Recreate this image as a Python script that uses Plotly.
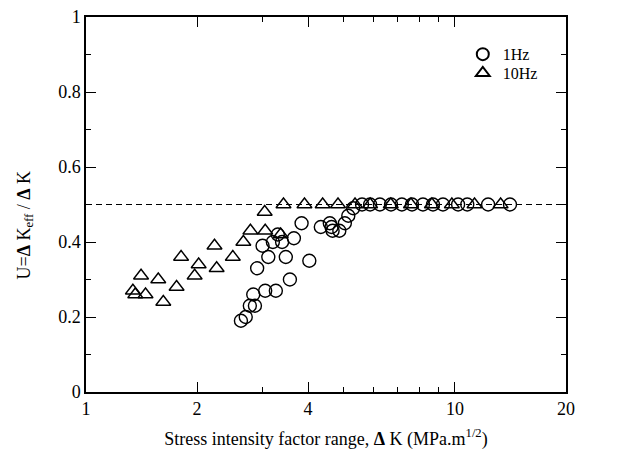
import plotly.graph_objects as go

# 1Hz data (circles)
dk_1hz = [2.63, 2.71, 2.78, 2.87, 2.84, 3.06, 3.27, 3.57, 2.91, 3.12, 3.48, 4.03,
          3.01, 3.21, 3.40, 3.31, 3.66, 3.84, 4.33, 4.58, 4.63, 4.66, 4.86, 5.03,
          5.14, 5.30, 5.60, 5.89, 6.26, 6.71, 7.18, 7.65, 8.19, 8.72, 9.28, 10.2,
          10.8, 12.3, 14.1]
u_1hz = [0.19, 0.20, 0.23, 0.23, 0.26, 0.27, 0.27, 0.30, 0.33, 0.36, 0.36, 0.35,
         0.39, 0.40, 0.40, 0.42, 0.41, 0.45, 0.44, 0.45, 0.44, 0.43, 0.43, 0.45,
         0.47, 0.49, 0.50, 0.50, 0.50, 0.50, 0.50, 0.50, 0.50, 0.50, 0.50, 0.50,
         0.50, 0.50, 0.50]

# 10Hz data (triangles)
dk_10hz = [1.34, 1.36, 1.45, 1.41, 1.57, 1.62, 1.76, 1.81, 1.97, 2.02, 2.23, 2.26,
           2.50, 2.67, 2.79, 3.06, 3.37, 3.05, 3.43, 3.91, 4.38, 4.82, 5.36, 5.89,
           6.70, 7.60, 8.66, 9.81, 11.3, 13.3]
u_10hz = [0.27, 0.26, 0.26, 0.31, 0.30, 0.24, 0.28, 0.36, 0.31, 0.34, 0.39, 0.33,
          0.36, 0.40, 0.43, 0.43, 0.42, 0.48, 0.50, 0.50, 0.50, 0.50, 0.50, 0.50,
          0.50, 0.50, 0.50, 0.50, 0.50, 0.50]

u_limit = 0.5
x_ticks = [1, 2, 4, 10, 20]
x_minor = [3, 5, 6, 7, 8, 9]

FONT = "Liberation Serif"

fig = go.Figure()
fig.add_trace(go.Scatter(x=dk_1hz, y=u_1hz, mode="markers", name="1Hz", legend="legend",
                         marker=dict(symbol="circle-open", size=13, color="black",
                                     line=dict(width=1.4, color="black"))))
fig.add_trace(go.Scatter(x=dk_10hz, y=u_10hz, mode="markers", name="10Hz", legend="legend2",
                         marker=dict(symbol="triangle-up-open", size=13, color="black",
                                     line=dict(width=1.4, color="black"))))

fig.add_hline(y=u_limit, line=dict(color="black", width=1, dash="6px,4px"), layer="below")

# y title as annotation so it can sit a little below centre like the original
fig.add_annotation(text="U=<b>Δ</b> K<sub>eff</sub> / <b>Δ</b> K",
                   xref="paper", yref="paper", x=0, y=0.5, xanchor="center", yanchor="middle",
                   xshift=-61, yshift=-21, textangle=-90, showarrow=False,
                   font=dict(family=FONT, size=18, color="black"))

leg = dict(xanchor="left", yanchor="top", bgcolor="rgba(0,0,0,0)",
           font=dict(family=FONT, size=16), itemsizing="constant")

# page has ~8px body margin, so margins are trimmed by that much
fig.update_layout(
    width=635, height=466,
    margin=dict(l=78, r=77, t=9, b=82),
    plot_bgcolor="white", paper_bgcolor="white",
    font=dict(family=FONT, size=18, color="black"),
    showlegend=True,
    legend=dict(x=0.785, y=0.946, **leg),
    legend2=dict(x=0.785, y=0.896, **leg),
)

fig.update_xaxes(
    type="log", range=[0, 1.30103], automargin=False,
    tickvals=x_ticks, ticktext=[str(v) for v in x_ticks],
    tickfont=dict(family=FONT, size=18), ticklabeloverflow="allow",
    ticks="inside", ticklen=10, tickwidth=1.2, tickcolor="black",
    minor=dict(tickvals=x_minor, ticks="inside", ticklen=5, tickwidth=1.2, tickcolor="black"),
    showline=True, linecolor="black", linewidth=1.5, mirror="ticks",
    showgrid=False, zeroline=False,
    title=dict(text="Stress intensity factor range, <b>Δ</b> K (MPa.m<sup>1/2</sup>)",
               font=dict(family=FONT, size=18), standoff=14),
)
fig.update_yaxes(
    range=[0, 1], dtick=0.2, automargin=False,
    tickfont=dict(family=FONT, size=18), ticklabeloverflow="allow",
    ticks="inside", ticklen=10, tickwidth=1.2, tickcolor="black",
    minor=dict(dtick=0.1, ticks="inside", ticklen=5, tickwidth=1.2, tickcolor="black"),
    showline=True, linecolor="black", linewidth=1.5, mirror="ticks",
    showgrid=False, zeroline=False,
)

fig.write_html("out.html")
